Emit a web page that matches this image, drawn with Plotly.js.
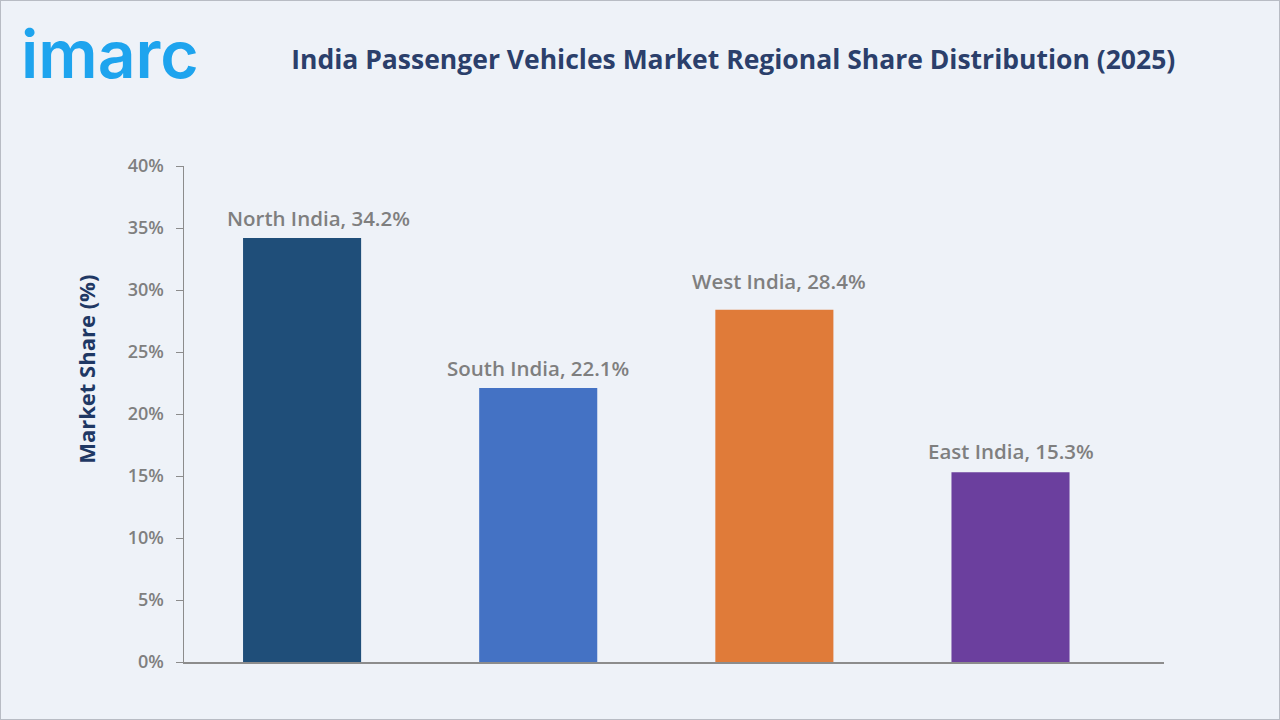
<!DOCTYPE html>
<html><head><meta charset="utf-8">
<script src="https://cdn.plot.ly/plotly-3.0.1.min.js"></script>
<style>html,body{margin:0;padding:0;background:#eef2f8;}#wrap{width:1280px;height:720px;box-sizing:border-box;border:1px solid #b8bcc4;overflow:hidden;}#chart{width:1278px;height:718px;}</style>
</head><body><div id="wrap"><div id="chart"></div></div>
<script>
const regions = ["North India", "South India", "West India", "East India"];
const shares = [34.2, 22.1, 28.4, 15.3];
const colors = ["#1f4e79", "#4472c4", "#e07b39", "#6b3f9e"];
const yTicks = [0, 5, 10, 15, 20, 25, 30, 35, 40];
const labelXShift = [16, 0, 5, 0];
const labelYShift = [4, 4, 13, 5];

const trace = {
  type: "bar", x: regions, y: shares, width: 0.5,
  marker: {color: colors}, hoverinfo: "none"
};
const anns = regions.map((r, i) => ({
  x: r, y: shares[i], xref: "x", yref: "y", text: r + ", " + shares[i].toFixed(1) + "%",
  showarrow: false, yanchor: "bottom", yshift: labelYShift[i], xshift: labelXShift[i],
  font: {family: "Open Sans", size: 20.5, color: "#7f7f7f", weight: 600}
}));
anns.push({
  xref: "paper", yref: "paper", x: -0.1, y: 0.589, xanchor: "center", yanchor: "middle", showarrow: false,
  textangle: -90, text: "Market Share (%)",
  font: {family: "Open Sans", size: 22, color: "#1f3864", weight: 700}
});
anns.push({
  xref: "paper", yref: "paper", x: -0.168, y: 1.225, xanchor: "left", yanchor: "middle", showarrow: false,
  text: "imarc", font: {family: "Inter", size: 66, color: "#1ea4ee", weight: 600}
});
const layout = {
  width: 1278, height: 718,
  paper_bgcolor: "#eef2f8", plot_bgcolor: "#eef2f8",
  margin: {l: 183, r: 115, t: 165, b: 57},
  title: {text: "India Passenger Vehicles Market Regional Share Distribution (2025)",
    font: {family: "Open Sans", size: 26.5, color: "#2b3f6b", weight: 700},
    x: 0.573, xanchor: "center", y: 0.918, yanchor: "middle"},
  showlegend: false,
  xaxis: {type: "category", range: [-0.5, 3.65], showline: true, linecolor: "#8c8c8c", linewidth: 1.5,
    showticklabels: false, ticks: "", showgrid: false, zeroline: false, fixedrange: true},
  yaxis: {range: [0, 40], tickvals: yTicks, ticktext: yTicks.map(v => v + "%"),
    showline: true, linecolor: "#8c8c8c", linewidth: 1.5, ticks: "outside", ticklen: 7, tickcolor: "#8c8c8c",
    ticklabelstandoff: 8, showgrid: false, zeroline: false,
    tickfont: {family: "Open Sans", size: 18, color: "#7f7f7f", weight: 600}},
  annotations: anns
};
Plotly.newPlot("chart", [trace], layout, {displayModeBar: false, staticPlot: true});
</script></body></html>
